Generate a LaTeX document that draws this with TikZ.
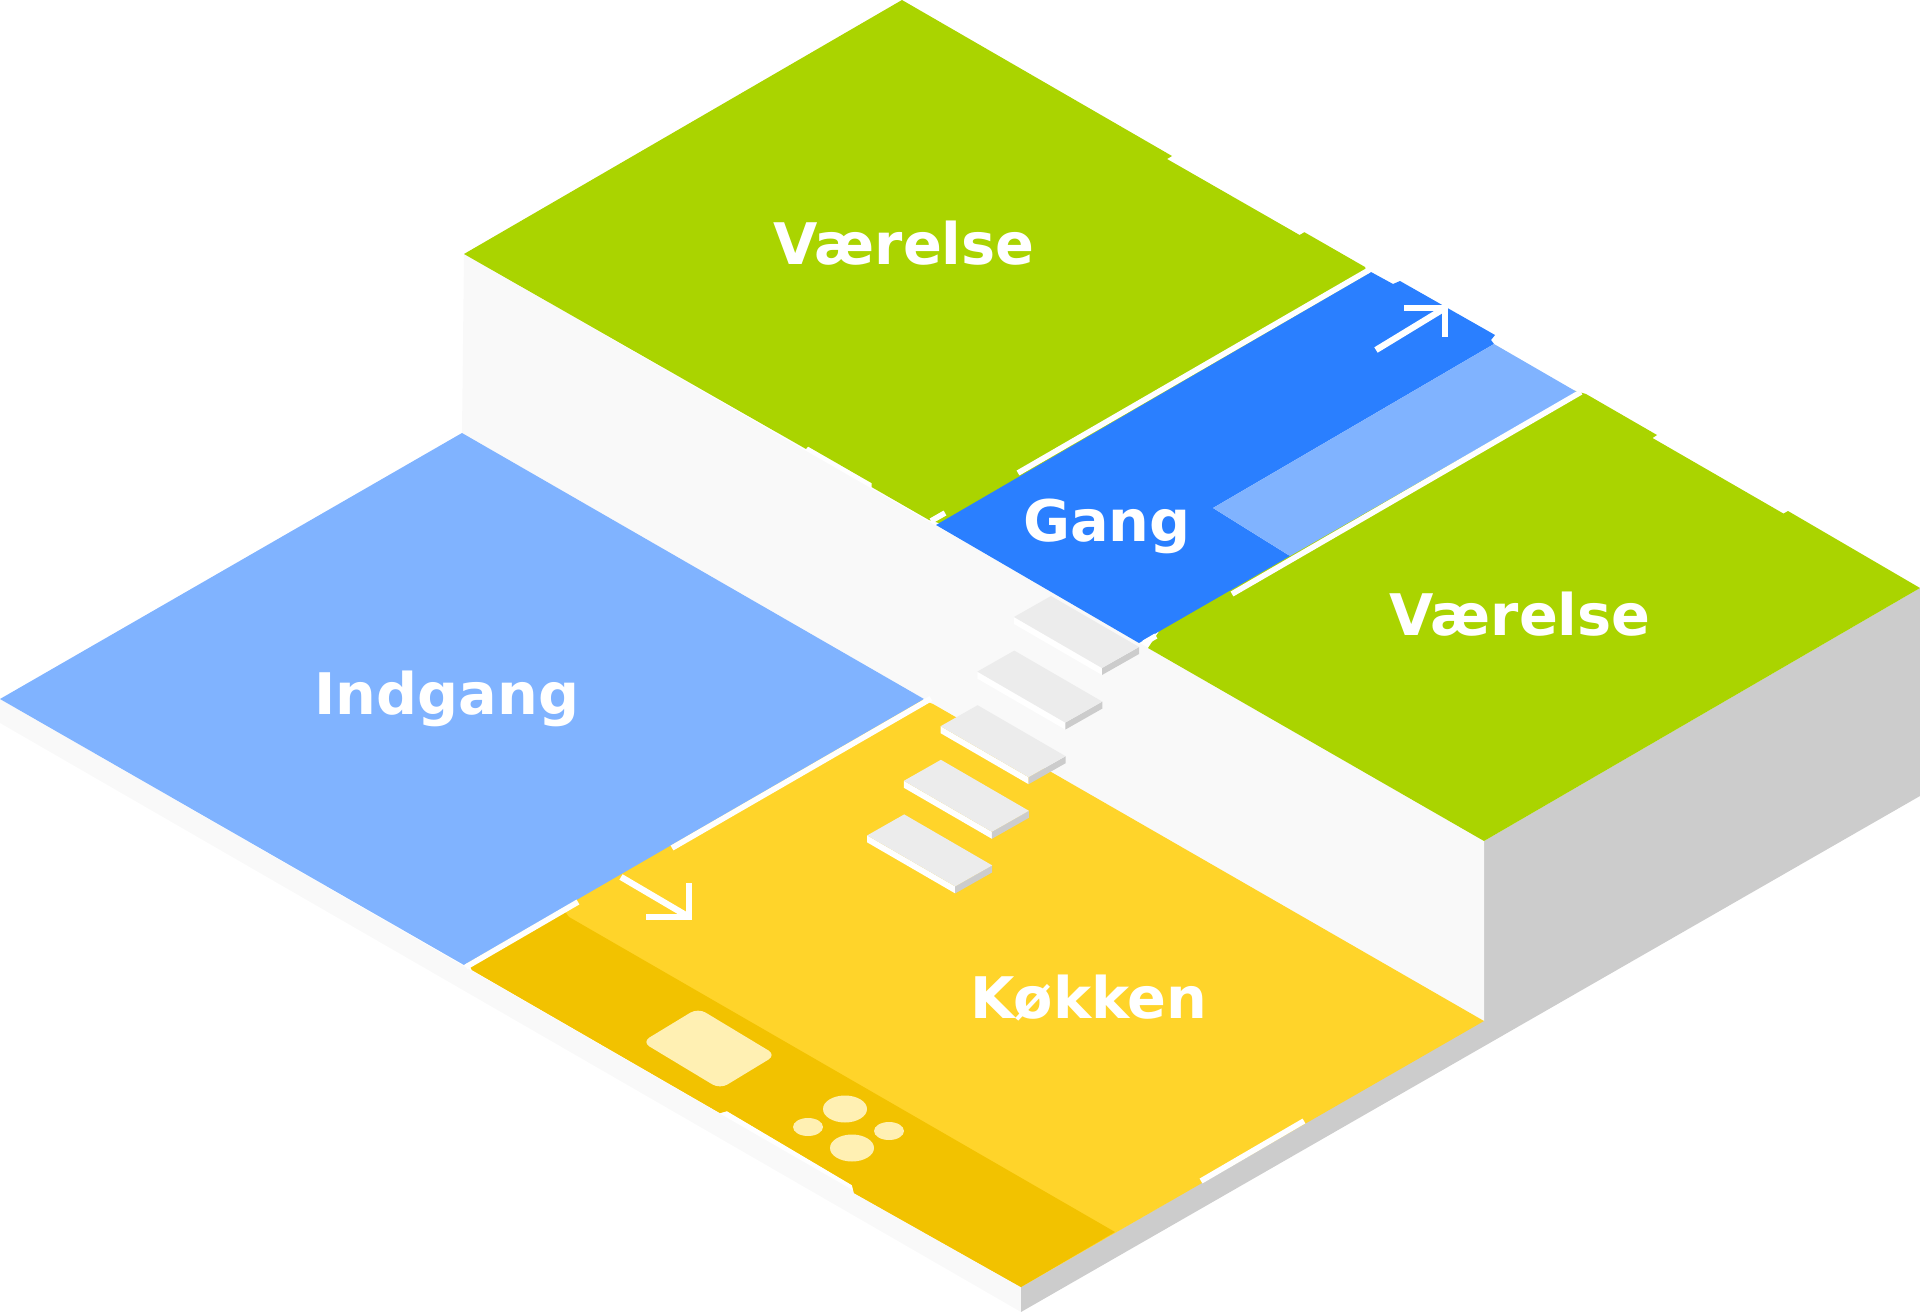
\documentclass[tikz,border=0pt]{standalone}
\usepackage{fontspec}
\setmainfont{DejaVu Sans}
\definecolor{room_green}{HTML}{aad400}
\definecolor{gang_blue}{HTML}{2a7fff}
\definecolor{light_blue}{HTML}{80b3ff}
\definecolor{kitchen_yellow}{HTML}{ffd42a}
\definecolor{counter_yellow}{HTML}{f2c200}
\definecolor{pale_yellow}{HTML}{fff0b3}
\definecolor{wall_white}{HTML}{f9f9f9}
\definecolor{side_grey}{HTML}{cccccc}
\definecolor{step_grey}{HTML}{ececec}
\tikzset{
  roomlabel/.style={text=white, font=\bfseries\fontsize{16.3}{19}\selectfont},
  gapline/.style={draw=white, line width=1.6pt},
  arrowline/.style={draw=white, line width=1.8pt}
}

\begin{document}
\begin{tikzpicture}[x=0.01cm, y=-0.01cm]
  \useasboundingbox (0,0) rectangle (1920,1312);
  % Outer faces of the slab
  \fill[wall_white] (0,699) -- (1021,1287) -- (1021,1312) -- (0,723) -- cycle;
  \fill[side_grey] (1484,841) -- (1920,588) -- (1920,796) -- (1021,1312) -- (1021,1287) -- (1484,1020) -- cycle;
  % Inner wall
  \fill[wall_white] (464,254) -- (1484,841) -- (1484,1021) -- (462,433) -- cycle;
  % Kitchen floor and counter
  \fill[kitchen_yellow] (933,704) -- (1484,1021) -- (1021,1287) -- (854,1193) -- (852,1185) -- (727,1111) -- (720,1113) -- (472,970) -- (466,960) -- (918,698) -- cycle;
  \fill[counter_yellow] (569,917) -- (1115,1232) -- (1021,1287) -- (854,1193) -- (852,1185) -- (727,1111) -- (720,1113) -- (472,970) -- (466,960) -- (560,905) -- cycle;
  % Entrance
  \fill[light_blue] (462,433) -- (924,699) -- (464,965) -- (0,699) -- cycle;
  % Rooms
  \fill[room_green] (902,0) -- (1172,156) -- (1167,159) -- (1299.6,235) -- (1304.4,232.2) -- (1365,267) -- (1368,276) -- (942,524) -- (929,520) -- (871.5,487) -- (871.5,483) -- (808,446.5) -- (806,449) -- (464,254) -- cycle;
  \fill[room_green] (1586,394) -- (1657,435) -- (1652.5,438) -- (1783.5,513.6) -- (1788,511) -- (1920,588) -- (1484,841) -- (1148,648) -- (1160,630) -- (1572,390) -- cycle;
  % Corridor
  \fill[gang_blue] (1371,272) -- (1393,284) -- (1400,281) -- (1495,335) -- (1491,340) -- (1494,344) -- (1213,508) -- (1290,556) -- (1139,643) -- (936,525) -- cycle;
  \fill[light_blue] (1494,344) -- (1577,392) -- (1290,556) -- (1213,508) -- cycle;
  % Stairs
  \foreach \i in {0,...,4} {
    \begin{scope}[shift={(-36.7*\i,54.6*\i)}]
      \fill[white] (1014,617) -- (1102,668) -- (1102,675) -- (1014,624) -- cycle;
      \fill[side_grey] (1102,668) -- (1139,647) -- (1139,654) -- (1102,675) -- cycle;
      \fill[step_grey] (1014,617) -- (1051,596) -- (1139,647) -- (1102,668) -- cycle;
    \end{scope}
  }
  % Stove and sink
  \fill[pale_yellow, rounded corners=2.5pt] (642,1042) -- (698,1008) -- (776,1055) -- (720,1089) -- cycle;
  \fill[pale_yellow] (845,1109) ellipse (22 and 13.5);
  \fill[pale_yellow] (852,1148) ellipse (22 and 13.5);
  \fill[pale_yellow] (808,1127) ellipse (15 and 9);
  \fill[pale_yellow] (889,1131) ellipse (15 and 9);
  % Door gaps
  \draw[gapline] (1369,270) -- (1018,473);
  \draw[gapline] (1581,392) -- (1232,594);
  \draw[gapline] (931,521) -- (945,513);
  \draw[gapline] (1144,643) -- (1156,636);
  \draw[gapline] (931,698.5) -- (672,848);
  \draw[gapline] (578,902) -- (466,967);
  \draw[gapline] (1304,1121) -- (1201,1181);
  % Direction arrows
  \coordinate (gangtail) at (1376,350);
  \coordinate (gangtip) at (1445,308);
  \coordinate (gangbarba) at (1404,308);
  \coordinate (gangbarbb) at (1445,337);
  \draw[arrowline] (gangtail) -- (gangtip);
  \draw[arrowline] (gangbarba) -- (gangtip) -- (gangbarbb);
  \coordinate (kokkentail) at (621,877);
  \coordinate (kokkentip) at (689,917);
  \coordinate (kokkenbarba) at (646,917);
  \coordinate (kokkenbarbb) at (689,883);
  \draw[arrowline] (kokkentail) -- (kokkentip);
  \draw[arrowline] (kokkenbarba) -- (kokkentip) -- (kokkenbarbb);
  % Labels
  \node[roomlabel] (vaerelsea) at (904,243) {Værelse};
  \node[roomlabel] (vaerelseb) at (1520,614) {Værelse};
  \node[roomlabel] (gang) at (1107,526) {Gang};
  \node[roomlabel] (indgang) at (447,699) {Indgang};
  \node[roomlabel] (kokken) at (1089,998) {Køkken};
\end{tikzpicture}
\end{document}
